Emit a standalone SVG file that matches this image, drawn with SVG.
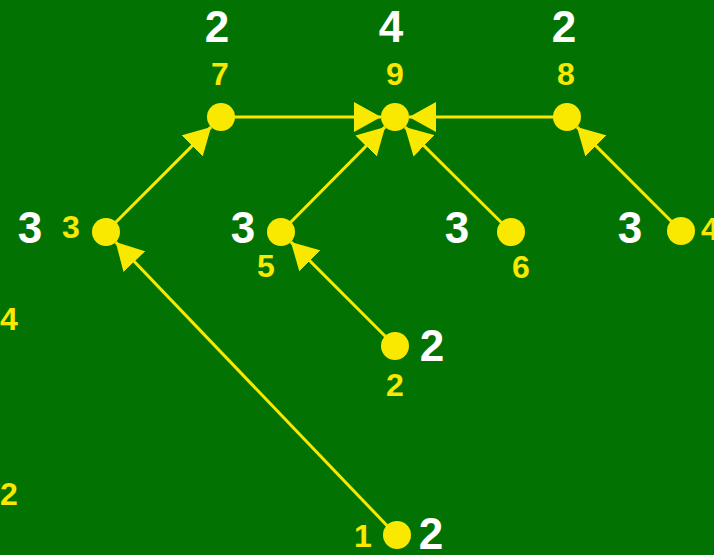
<svg xmlns="http://www.w3.org/2000/svg" width="714" height="555" viewBox="0 0 714 555">
<defs>
<marker id="arr" markerUnits="userSpaceOnUse" markerWidth="27" markerHeight="30" viewBox="0 0 27 30" refX="27" refY="15" orient="auto">
<path d="M0,0 L27,15 L0,30 z" fill="#f9e800"/>
</marker>
<style>
.e{stroke:#f9e800;stroke-width:3;fill:none;marker-end:url(#arr)}
.n{fill:#f9e800}
.y{fill:#f9e800;font-family:"Liberation Sans",Arial,sans-serif;font-weight:bold;font-size:32px;text-anchor:middle}
.w{fill:#ffffff;font-family:"Liberation Sans",Arial,sans-serif;font-weight:bold;font-size:44px;text-anchor:middle}
</style>
</defs>
<rect width="714" height="555" fill="#027302"/>
<g id="edges">
<line class="e" x1="106" y1="232" x2="211.1" y2="126.9"/>
<line class="e" x1="396" y1="535" x2="115.7" y2="242.1"/>
<line class="e" x1="221" y1="117" x2="381" y2="117"/>
<line class="e" x1="567" y1="117" x2="409" y2="117"/>
<line class="e" x1="281" y1="232" x2="385.1" y2="126.9"/>
<line class="e" x1="511" y1="232" x2="404.9" y2="126.9"/>
<line class="e" x1="395" y1="346" x2="290.9" y2="241.9"/>
<line class="e" x1="681" y1="231" x2="576.9" y2="126.9"/>
</g>
<g id="node7"><circle class="n" cx="221" cy="117" r="14"/><text class="y" x="220" y="85">7</text><text class="w" x="217" y="42">2</text></g>
<g id="node9"><circle class="n" cx="395" cy="117" r="14"/><text class="y" x="395" y="85">9</text><text class="w" x="391" y="42">4</text></g>
<g id="node8"><circle class="n" cx="567" cy="117" r="14"/><text class="y" x="566" y="85">8</text><text class="w" x="564" y="42">2</text></g>
<g id="node3"><circle class="n" cx="106" cy="232" r="14"/><text class="y" x="71" y="238">3</text><text class="w" x="30" y="243">3</text></g>
<g id="node5"><circle class="n" cx="281" cy="232" r="14"/><text class="y" x="266" y="277">5</text><text class="w" x="243" y="243">3</text></g>
<g id="node6"><circle class="n" cx="511" cy="232" r="14"/><text class="y" x="521" y="278">6</text><text class="w" x="457" y="243">3</text></g>
<g id="node4"><circle class="n" cx="681" cy="231" r="14"/><text class="y" x="701" y="240" style="text-anchor:start">4</text><text class="w" x="630" y="243">3</text></g>
<g id="node2"><circle class="n" cx="395" cy="346" r="14"/><text class="y" x="395" y="396">2</text><text class="w" x="432" y="361">2</text></g>
<g id="node1"><circle class="n" cx="397" cy="535" r="14"/><text class="y" x="363" y="547">1</text><text class="w" x="431" y="549">2</text></g>
<g id="side-labels"><text class="y" x="0" y="330" style="text-anchor:start">4</text><text class="y" x="0" y="505" style="text-anchor:start">2</text></g>
</svg>
